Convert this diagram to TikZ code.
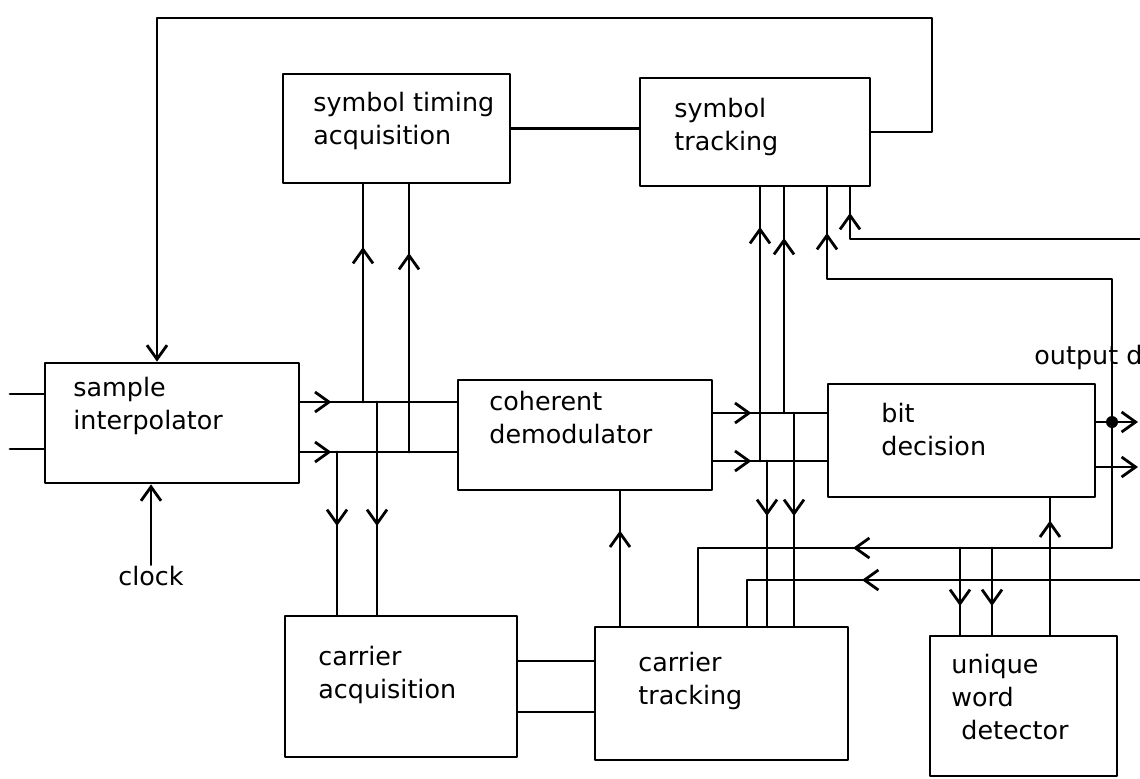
\documentclass[tikz,border=0pt]{standalone}
\usepackage{fontspec}
\setmainfont{DejaVu Sans}
\usetikzlibrary{arrows.meta,decorations.markings}

\begin{document}
\begin{tikzpicture}[x=0.5pt,y=-0.5pt,line width=1.4pt,line cap=round,line join=round,
  >={Straight Barb[length=7pt,width=10pt]},
  wh/.style 2 args={minimum width=#1*0.5pt,minimum height=#2*0.5pt},
  flow/.style={postaction={decorate},decoration={markings,mark=at position #1 with {\arrow{>}}}}]
\tikzstyle{box}=[draw, inner sep=0pt]
\tikzstyle{lbl}=[anchor=west, align=left, inner sep=0pt, font=\fontsize{12.7}{16.5}\selectfont]
\useasboundingbox (0,0) rectangle (1140,778);

% blocks
\node[box, wh={254}{120}] (samp) at (172,423) {};
\node[box, wh={227}{109}] (sta) at (396.5,128.5) {};
\node[box, wh={230}{108}] (st) at (755,132) {};
\node[box, wh={254}{110}] (cd) at (585,435) {};
\node[box, wh={267}{113}] (bd) at (961.5,440.5) {};
\node[box, wh={232}{141}] (ca) at (401,686.5) {};
\node[box, wh={253}{133}] (ct) at (721.5,693.5) {};
\node[box, wh={187}{140}] (uwd) at (1023.5,706) {};

% block texts
\node[lbl] (sampL) at (72,406) {sample\\interpolator};
\node[lbl] (staL) at (312,121) {symbol timing\\acquisition};
\node[lbl] (stL) at (673,127) {symbol\\tracking};
\node[lbl] (cdL) at (488,418) {coherent\\demodulator};
\node[lbl] (bdL) at (880,430) {bit\\decision};
\node[lbl] (caL) at (317,675) {carrier\\acquisition};
\node[lbl] (ctL) at (637,681) {carrier\\tracking};
\node[lbl] (uwdL) at (950,697) {unique\\word\\\hspace{5pt}detector};
\node[lbl] (clk) at (117,576) {clock};
\node[lbl] (outL) at (1033,357) {output d};

% feedback to the interpolator
\coordinate (topR) at (932,18);
\coordinate (topL) at (157,18);
\draw[->] (st.east) -| (topR) -- (topL) -- (topL |- samp.north);
\draw (sta.east) -- (sta.east -| st.west);

% inputs and clock
\coordinate (in1) at (10,394);
\coordinate (in2) at (10,449);
\draw (in1) -- (in1 -| samp.west);
\draw (in2) -- (in2 -| samp.west);
\draw[->] (clk.north) -- (clk.north |- samp.south);

% interpolator -> demodulator, acquisition taps
\coordinate (ya) at (0,402);
\coordinate (yb) at (0,452);
\draw[flow=15.5pt] (samp.east |- ya) -- (cd.west |- ya);
\draw[flow=15.5pt] (samp.east |- yb) -- (cd.west |- yb);
\coordinate (la) at (337,0);
\coordinate (lb) at (363,0);
\coordinate (lc) at (377,0);
\coordinate (ld) at (409,0);
\draw[flow=37pt] (la |- yb) -- (la |- ca.north);
\draw[flow=77.5pt] (lb |- ya) -- (lb |- sta.south);
\draw[flow=62pt] (lc |- ya) -- (lc |- ca.north);
\draw[flow=99.5pt] (ld |- yb) -- (ld |- sta.south);

% demodulator -> bit decision, tracking taps
\coordinate (yc) at (0,413);
\coordinate (yd) at (0,461);
\draw[flow=19pt] (cd.east |- yc) -- (bd.west |- yc);
\draw[flow=19pt] (cd.east |- yd) -- (bd.west |- yd);
\coordinate (ra) at (760,0);
\coordinate (rb) at (767,0);
\coordinate (rc) at (784,0);
\coordinate (rd) at (794,0);
\draw[flow=117pt] (ra |- yd) -- (ra |- st.south);
\draw[flow=27.5pt] (rb |- yd) -- (rb |- ct.north);
\draw[flow=87.5pt] (rc |- yc) -- (rc |- st.south);
\draw[flow=51.5pt] (rd |- yc) -- (rd |- ct.north);

% carrier loops
\coordinate (ce) at (620,0);
\draw[flow=47.5pt] (ce |- ct.north) -- (ce |- cd.south);
\coordinate (yk) at (0,661);
\coordinate (yl) at (0,712);
\draw (ca.east |- yk) -- (ct.west |- yk);
\draw (ca.east |- yl) -- (ct.west |- yl);

% outputs
\coordinate (outR) at (1138,0);
\coordinate (od) at (1112,422);
\coordinate (yj) at (0,467);
\draw[->] (bd.east |- od) -- (outR |- od);
\draw[->] (bd.east |- yj) -- (outR |- yj);
\fill (od) circle (3pt);
\coordinate (yf) at (827,279);
\coordinate (yg) at (698,548);
\draw[flow=237pt] (od) -- (od |- yf) -- (yf) -- (yf |- st.south);
\draw[flow=192.5pt] (od) -- (od |- yg) -- (yg) -- (yg |- ct.north);

% unique word detector
\coordinate (ua) at (960,548);
\coordinate (ub) at (992,548);
\coordinate (uc) at (1050,0);
\draw[flow=29pt] (ua) -- (ua |- uwd.north);
\draw[flow=29pt] (ub) -- (ub |- uwd.north);
\draw[flow=57pt] (uc |- uwd.north) -- (uc |- bd.south);

% external inputs from the right
\coordinate (exA) at (1140,239);
\coordinate (exB) at (1140,580);
\coordinate (sa) at (850,0);
\coordinate (cb) at (747,0);
\draw[flow=158pt] (exA) -- (sa |- exA) -- (sa |- st.south);
\draw[flow=139pt] (exB) -- (cb |- exB) -- (cb |- ct.north);
\end{tikzpicture}
\end{document}
